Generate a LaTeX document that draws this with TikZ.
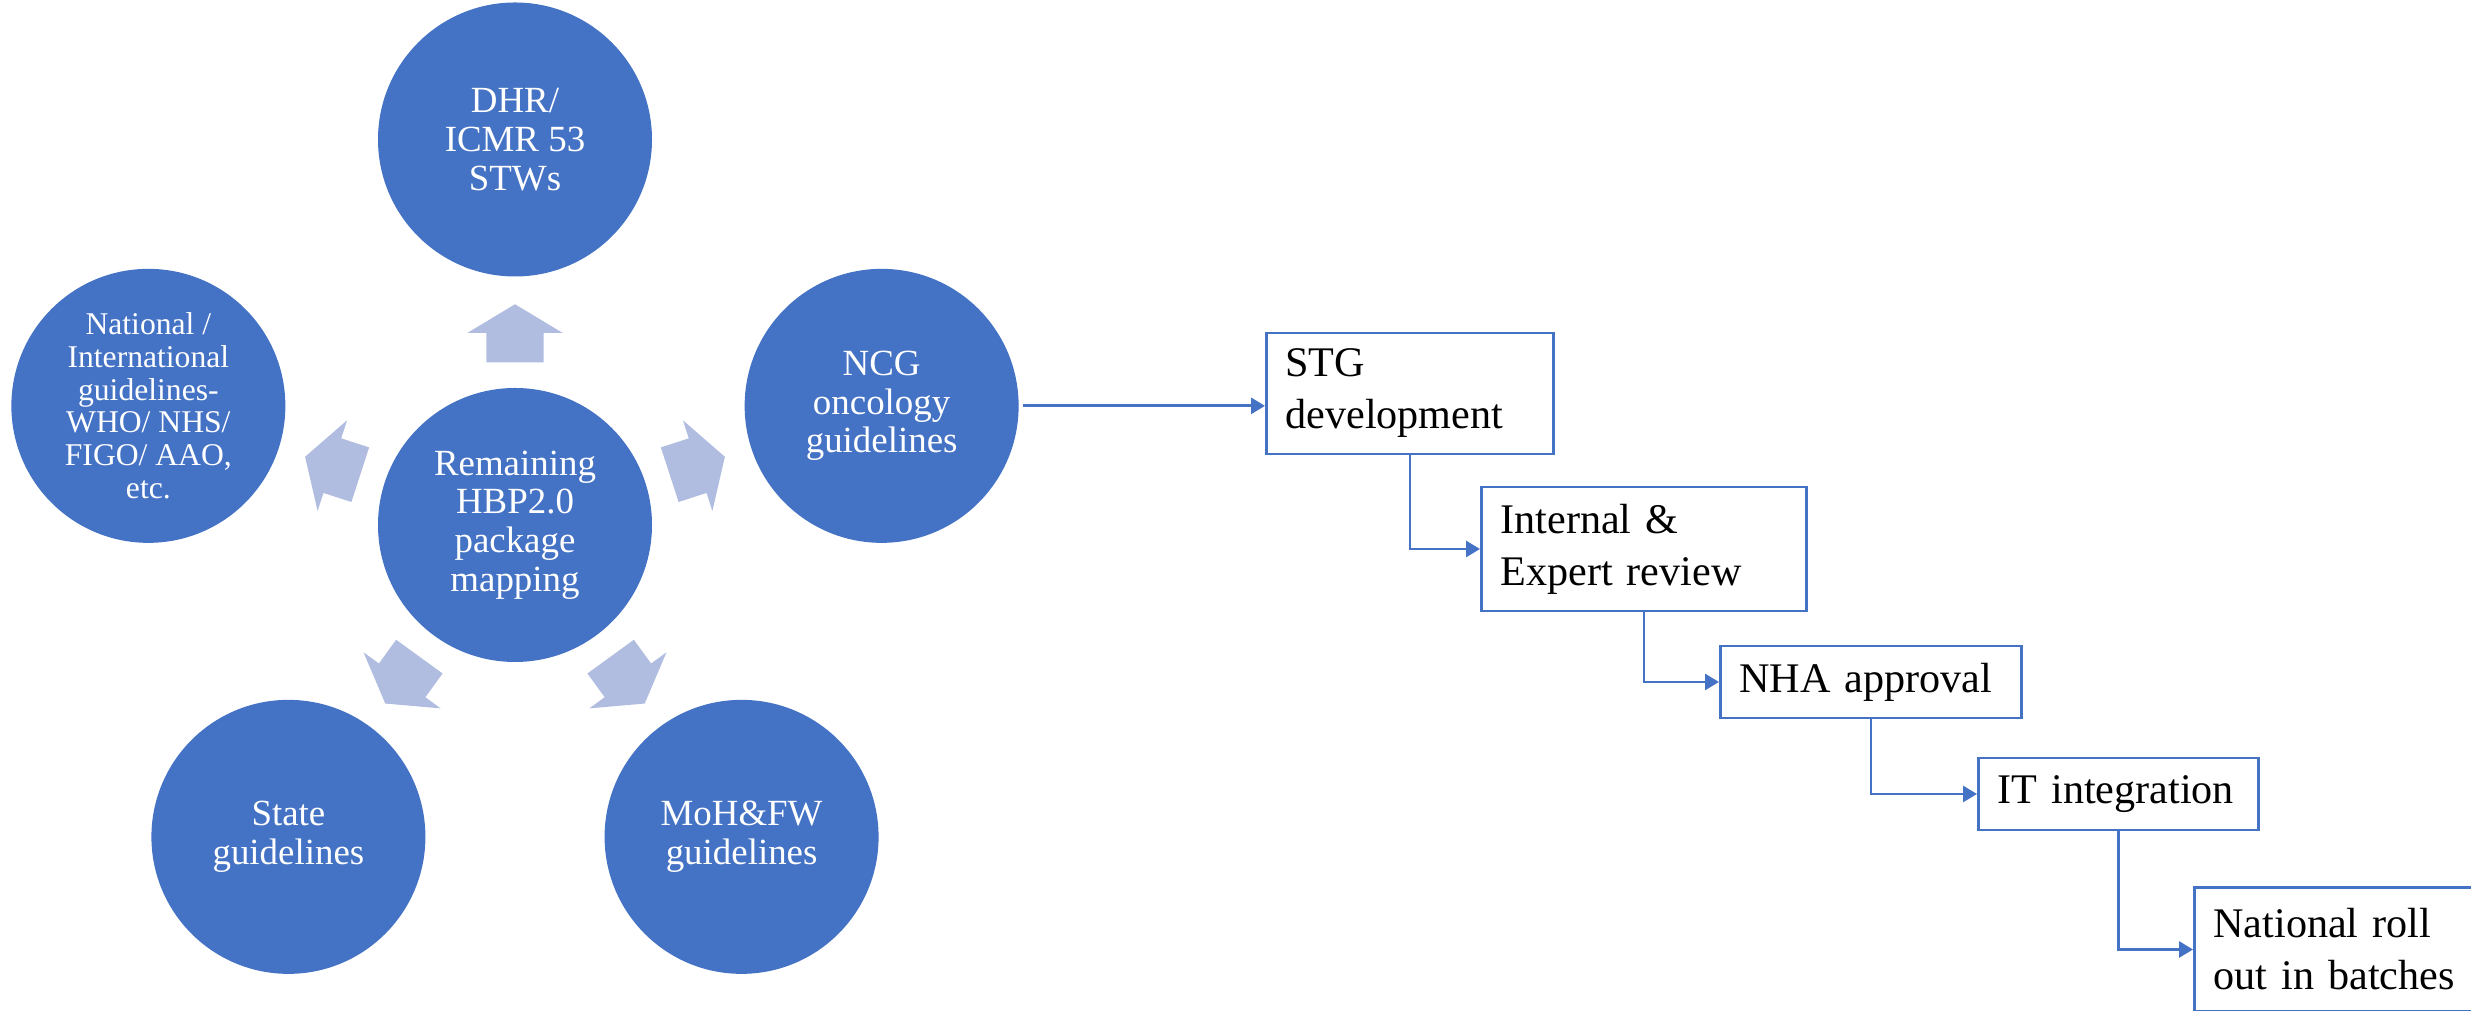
\documentclass[tikz,border=0pt]{standalone}
\usepackage{fontspec}
\setmainfont{Liberation Serif}
\usepackage{xcolor}
\definecolor{mainBlue}{HTML}{4472C4}
\definecolor{spokeBg}{HTML}{B0BDE0}
\usepackage{tikz}
\usetikzlibrary{shapes,arrows,positioning,calc,arrows.meta,shapes.misc}
\tikzset{%
  guideCircle/.style={%
    circle,
    fill=mainBlue,
    draw=none,
    minimum size=2.74cm,
    inner sep=0pt,
    text=white,
    align=center,
    font=\fontsize{10.5}{11}\selectfont
  },
  spokeArrow/.style={%
    single arrow,
    fill=spokeBg,
    draw=none,
    minimum height=0.58cm,
    inner xsep=0pt,
    inner ysep=0.28cm,
    single arrow head extend=0.19cm,
    single arrow tip angle=118,
    anchor=tail
  },
  stepBox/.style={%
    rectangle,
    draw=mainBlue,
    fill=white,
    line width=0.8pt,
    inner xsep=0.19cm,
    align=left,
    anchor=west,
    font=\fontsize{12}{14.8}\selectfont
  },
  flowLine/.style={%
    -{Triangle[length=1.4mm,width=1.6mm]},
    line width=0.8pt,
    color=mainBlue
  }
}

\begin{document}
\begin{tikzpicture}
  \useasboundingbox (0,0) rectangle (24.71,10.11);
  \clip (0,0) rectangle (24.71,10.11);

  % guideline sources around the hub
  \node[guideCircle] (hub) at (5.15,4.86) {Remaining\\HBP2.0\\package\\mapping};
  \node[guideCircle] (dhr) at ($(hub)+(90:3.855)$) {DHR/\\ICMR 53\\STWs};
  \node[guideCircle] (ncg) at ($(hub)+(18:3.855)$) {NCG\\oncology\\guidelines};
  \node[guideCircle] (moh) at ($(hub)+(-54:3.855)$) {MoH\&FW\\guidelines};
  \node[guideCircle] (state) at ($(hub)+(234:3.855)$) {State\\guidelines};
  \node[guideCircle, font=\fontsize{9}{9.3}\selectfont] (intl) at ($(hub)+(162:3.855)$) {National /\\International\\guidelines-\\WHO/ NHS/\\FIGO/ AAO,\\etc.};

  \node[spokeArrow, rotate=90] (toDhr) at ($(hub)+(90:1.62)$) {};
  \node[spokeArrow, rotate=18] (toNcg) at ($(hub)+(18:1.62)$) {};
  \node[spokeArrow, rotate=-54] (toMoh) at ($(hub)+(-54:1.62)$) {};
  \node[spokeArrow, rotate=234] (toState) at ($(hub)+(234:1.62)$) {};
  \node[spokeArrow, rotate=162] (toIntl) at ($(hub)+(162:1.62)$) {};

  % STG process steps
  \node[stepBox, text width=2.49cm, minimum height=1.21cm] (stg) at (12.65,6.175) {STG\\development};
  \node[stepBox, text width=2.87cm, minimum height=1.24cm] (review) at (14.80,4.62) {Internal \&\\Expert review};
  \node[stepBox, text width=2.63cm, minimum height=0.72cm] (nha) at (17.19,3.29) {NHA approval};
  \node[stepBox, text width=2.42cm, minimum height=0.72cm] (itint) at (19.77,2.17) {IT integration};
  \node[stepBox, text width=2.60cm, minimum height=1.24cm] (rollout) at (21.93,0.615) {National roll\\out in batches};

  \draw[flowLine, shorten <=0.04cm] (ncg.east) -- (ncg.east -| stg.west);
  \draw[flowLine] (stg.south) |- (review.west);
  \draw[flowLine] (review.south) |- (nha.west);
  \draw[flowLine] (nha.south) |- (itint.west);
  \draw[flowLine] (itint.south) |- (rollout.west);
\end{tikzpicture}
\end{document}
